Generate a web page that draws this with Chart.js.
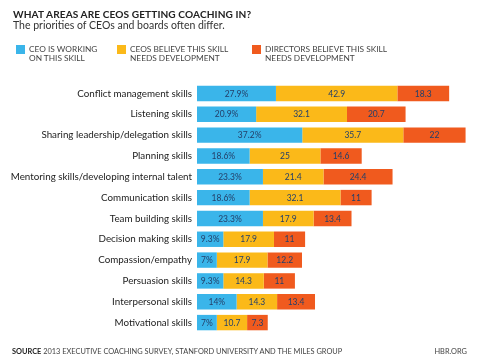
<!DOCTYPE html>
<html>
<head>
<meta charset="utf-8">
<script src="https://cdn.jsdelivr.net/npm/chart.js@4.4.1/dist/chart.umd.min.js"></script>
<style>
  html, body { margin: 0; padding: 0; background: #fff; }
  body { width: 480px; height: 362px; position: relative; overflow: hidden; font-family: Lato, sans-serif; color: #222; }
  #wrap { position: absolute; left: 0; top: 0; width: 480px; height: 362px; }
  .title { position: absolute; left: 13px; top: 8px; font-size: 10.1px; font-weight: 700; letter-spacing: 0.1px; }
  .sub { position: absolute; left: 13px; top: 19px; font-size: 10.5px; color: #333; }
  .leg { position: absolute; top: 45px; font-size: 8.3px; line-height: 8.5px; color: #444; }
  .leg i { position: absolute; left: 0; top: 0; width: 9px; height: 9px; }
  .leg span { display: block; padding-left: 13px; }
  .foot { position: absolute; top: 347px; font-size: 7.4px; color: #444; }
  .foot b { color: #222; }
</style>
</head>
<body>
<div id="wrap"><canvas id="chart" width="480" height="362"></canvas></div>
<div class="title">WHAT AREAS ARE CEOS GETTING COACHING IN?</div>
<div class="sub">The priorities of CEOs and boards often differ.</div>
<div class="leg" style="left:16px"><i style="background:#3ab5ea"></i><span>CEO IS WORKING<br>ON THIS SKILL</span></div>
<div class="leg" style="left:117px"><i style="background:#fbb919"></i><span>CEOS BELIEVE THIS SKILL<br>NEEDS DEVELOPMENT</span></div>
<div class="leg" style="left:252px"><i style="background:#f05a1e"></i><span>DIRECTORS BELIEVE THIS SKILL<br>NEEDS DEVELOPMENT</span></div>
<div class="foot" style="left:12px"><b>SOURCE</b> 2013 EXECUTIVE COACHING SURVEY, STANFORD UNIVERSITY AND THE MILES GROUP</div>
<div class="foot" style="right:13px">HBR.ORG</div>
<script>
const skills = [
  'Conflict management skills', 'Listening skills', 'Sharing leadership/delegation skills',
  'Planning skills', 'Mentoring skills/developing internal talent', 'Communication skills',
  'Team building skills', 'Decision making skills', 'Compassion/empathy',
  'Persuasion skills', 'Interpersonal skills', 'Motivational skills'
];
const ceoWorking = [27.9, 20.9, 37.2, 18.6, 23.3, 18.6, 23.3, 9.3, 7, 9.3, 14, 7];
const ceoBelieve = [42.9, 32.1, 35.7, 25, 21.4, 32.1, 17.9, 17.9, 17.9, 14.3, 14.3, 10.7];
const directorsBelieve = [18.3, 20.7, 22, 14.6, 24.4, 11, 13.4, 11, 12.2, 11, 13.4, 7.3];

const segmentLabels = {
  id: 'segmentLabels',
  afterDatasetsDraw(chart) {
    const ctx = chart.ctx;
    ctx.save();
    ctx.font = '8.5px Lato, sans-serif';
    ctx.fillStyle = '#24406a';
    ctx.textAlign = 'center';
    ctx.textBaseline = 'middle';
    chart.data.datasets.forEach((ds, di) => {
      chart.getDatasetMeta(di).data.forEach((bar, i) => {
        const v = ds.data[i];
        const text = di === 0 ? v + '%' : String(v);
        ctx.fillText(text, (bar.base + bar.x) / 2, bar.y + 0.5);
      });
    });
    ctx.restore();
  }
};

new Chart(document.getElementById('chart'), {
  type: 'bar',
  data: {
    labels: skills,
    datasets: [
      { label: 'CEO is working on this skill', data: ceoWorking, backgroundColor: '#3ab5ea' },
      { label: 'CEOs believe this skill needs development', data: ceoBelieve, backgroundColor: '#fbb919' },
      { label: 'Directors believe this skill needs development', data: directorsBelieve, backgroundColor: '#f05a1e' }
    ]
  },
  options: {
    indexAxis: 'y',
    responsive: false,
    animation: false,
    layout: { padding: { top: 83, bottom: 29, left: 0, right: 0 } },
    datasets: { bar: { categoryPercentage: 1, barPercentage: 0.74, borderWidth: 0 } },
    plugins: { legend: { display: false }, tooltip: { enabled: false } },
    scales: {
      x: { stacked: true, min: 0, max: 100, display: false },
      y: {
        stacked: true,
        grid: { display: false, drawTicks: false },
        border: { display: false },
        ticks: { color: '#222', font: { family: 'Lato, sans-serif', size: 9.8 }, padding: 5 },
        afterFit(scale) { scale.width = 197; }
      }
    }
  },
  plugins: [segmentLabels]
});
</script>
</body>
</html>
